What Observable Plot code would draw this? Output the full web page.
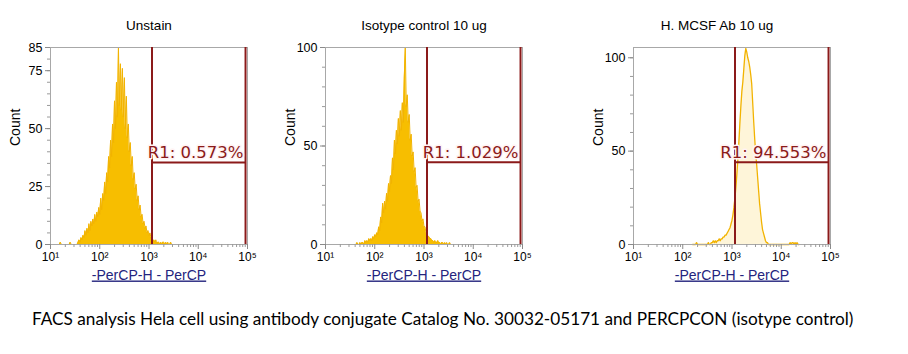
<!DOCTYPE html>
<html>
<head>
<meta charset="utf-8">
<script src="https://cdn.jsdelivr.net/npm/d3@7"></script>
<script src="https://cdn.jsdelivr.net/npm/@observablehq/plot@0.6"></script>
<style>
  html, body { margin: 0; padding: 0; background: #fff; }
  #root { position: relative; width: 908px; height: 354px; background: #fff; overflow: hidden; }
  .panel { position: absolute; top: 0; }
  #caption { position: absolute; left: 32px; top: 308px; font-family: Lato, "Open Sans", sans-serif; font-size: 17.2px; color: #000; white-space: nowrap; }
</style>
</head>
<body>
<div id="root">
  <div class="panel" id="p0" style="left:0px"></div>
  <div class="panel" id="p1" style="left:275px"></div>
  <div class="panel" id="p2" style="left:583px"></div>
  <div id="caption"></div>
</div>
<script>
// ---- data (counts per channel; channel = log10 intensity step) ----
const channelStep = 0.02;

const unstainStart = 1.10;
const unstainCounts = [
  0,0,0,0,0, 1, 0,0,0,0,0,0,0,0,0, 1, 0,0,0,0,0,0,0,
  1,2,1,3,2,4,3,6,4,7,5,9,6,10,8,11,9,13,10,14,12,16,13,
  20,15,22,19,27,22,31,27,38,33,45,38,52,44,62,50,70,55,85,60,78,58,76,55,72,50,64,46,52,40,44,34,38,28,31,24,26,19,21,15,17,12,13,9,10,7,8,5,6,4,5,3,3,1,2,1,2,0,1,1,0,1,0,1,1,0,1,0,1,0,0,1,0,0,0
];

const isotypeStart = 1.60;
const isotypeCounts = [
  0,0,1,0,0,1,0,1,1,0,2,1,2,1,3,2,3,2,4,3,5,4,6,5,9,7,14,11,21,16,22,18,26,22,31,27,35,31,44,38,53,46,58,51,64,55,68,58,72,62,85,100,70,76,62,66,53,56,45,47,37,39,29,30,22,23,17,16,12,13,9,9,6,6,4,4,3,3,2,2,1,2,1,1,2,1,1,0,1,1,0,1,0,1,0,0,1,0,0
];

const mcsfStart = 2.20;
const mcsfCounts = [
  0,0,0,0,1,0, 0,0,0,0,0,0,0,0,0,0, 1,0,0,1,1,2,1,2,1,2,2,3,2,3,3,4,4,5,5,6,7,8,9,11,13,16,20,25,31,38,46,55,65,74,82,87,94,101,105,103,100,98,95,91,86,76,66,57,49,43,36,29,22,17,12,8,6,4,2,1,1,0,
  0,0,0,0,0,0,0,0,0,0,0,0,0,0,0,0,0,0,0,0,0,
  1,0,1,1,0,1,0,1,0,0
];

const panelTitles = ["Unstain", "Isotype control 10 ug", "H. MCSF Ab 10 ug"];
const gateLabels = ["R1: 0.573%", "R1: 1.029%", "R1: 94.553%"];
const gateLow = 1150;
const gateHigh = 91200;
const gateHeights = [35.4, 41.8, 44];
const yMaxes = [85, 100, 105.5];
const yTickValues = [[0, 25, 50, 75, 85], [0, 50, 100], [0, 50, 100]];
const yMinorStep = [5, 10, 10];
const xTickValues = [10, 100, 1000, 10000, 100000];
const xLabel = "-PerCP-H - PerCP";
const yLabel = "Count";
const captionText = "FACS analysis Hela cell using antibody conjugate Catalog No. 30032-05171 and PERCPCON (isotype control)";

// ---- drawing ----
const sup = {1: "¹", 2: "²", 3: "³", 4: "⁴", 5: "⁵"};
const xMinor = [];
for (const d of [10, 100, 1000, 10000]) for (let k = 2; k <= 9; k++) xMinor.push(d * k);

const gateColor = "#8B1A1A";
const histColor = "#F7BE00";

function makePanel(i, counts, start, opts) {
  const data = counts.map((c, j) => ({x: Math.pow(10, start + j * channelStep), y: c}));
  const yMinor = d3.range(0, yMaxes[i] + 0.001, yMinorStep[i]);
  const chart = Plot.plot({
    width: 260, height: 300,
    marginLeft: 50, marginRight: 13, marginTop: 47, marginBottom: 56,
    x: {type: "log", domain: [10, 100000], axis: null},
    y: {domain: [0, yMaxes[i]], axis: null},
    style: {fontFamily: "'Liberation Sans', Arial, sans-serif", fontSize: "12px", background: "transparent", overflow: "visible", color: "#000"},
    marks: [
      Plot.areaY(data, {x: "x", y: "y", fill: histColor, fillOpacity: opts.fillOpacity, curve: "linear"}),
      Plot.lineY(data, {x: "x", y: "y", stroke: "#F2B300", strokeWidth: opts.lineWidth, curve: "linear"}),
      Plot.frame({stroke: "#a8a8a8"}),
      Plot.axisY({ticks: yMinor, tickSize: 3, tickFormat: () => "", label: null, stroke: "#9a9a9a"}),
      Plot.axisY({ticks: yTickValues[i], tickSize: 5, tickPadding: 3, label: null, stroke: "#8a8a8a", fontSize: 12.5}),
      Plot.axisX({ticks: xMinor, tickSize: 3, tickFormat: () => "", label: null, stroke: "#9a9a9a"}),
      Plot.axisX({ticks: xTickValues, tickSize: 5, tickPadding: 3, label: null, stroke: "#8a8a8a", fontSize: 12,
        tickFormat: d => "10" + sup[Math.round(Math.log10(d))]}),
      Plot.ruleX([gateLow, gateHigh], {stroke: gateColor, strokeWidth: 2}),
      Plot.ruleY([gateHeights[i]], {x1: gateLow, x2: gateHigh, stroke: gateColor, strokeWidth: 2}),
      Plot.text([gateLabels[i]], {x: gateHigh, y: gateHeights[i], text: d => d, textAnchor: "end", lineAnchor: "bottom",
        dx: -2, dy: -4, fill: gateColor, stroke: "#fff3f3", strokeWidth: 3, fontSize: 16.5, fontFamily: "'DejaVu Sans', Verdana, sans-serif"}),
      Plot.text([panelTitles[i]], {frameAnchor: "top", text: d => d, lineAnchor: "bottom", dy: -18, dx: opts.titleDx, fontSize: 13.5}),
      Plot.text([yLabel], {frameAnchor: "left", text: d => d, rotate: -90, dx: -35, fontSize: 14}),
      Plot.text([xLabel], {frameAnchor: "bottom", text: d => d, lineAnchor: "bottom", dy: 35, fontSize: 14, fill: "#24247e"})
    ]
  });
  d3.select(chart).selectAll("text").filter(function() { return this.textContent === xLabel; })
    .style("text-decoration", "underline");
  return chart;
}

document.getElementById("p0").appendChild(makePanel(0, unstainCounts, unstainStart, {fillOpacity: 1, lineWidth: 1, titleDx: 0}));
document.getElementById("p1").appendChild(makePanel(1, isotypeCounts, isotypeStart, {fillOpacity: 1, lineWidth: 1, titleDx: 0}));
document.getElementById("p2").appendChild(makePanel(2, mcsfCounts, mcsfStart, {fillOpacity: 0.15, lineWidth: 1.3, titleDx: -15}));
document.getElementById("caption").textContent = captionText;
</script>
</body>
</html>
